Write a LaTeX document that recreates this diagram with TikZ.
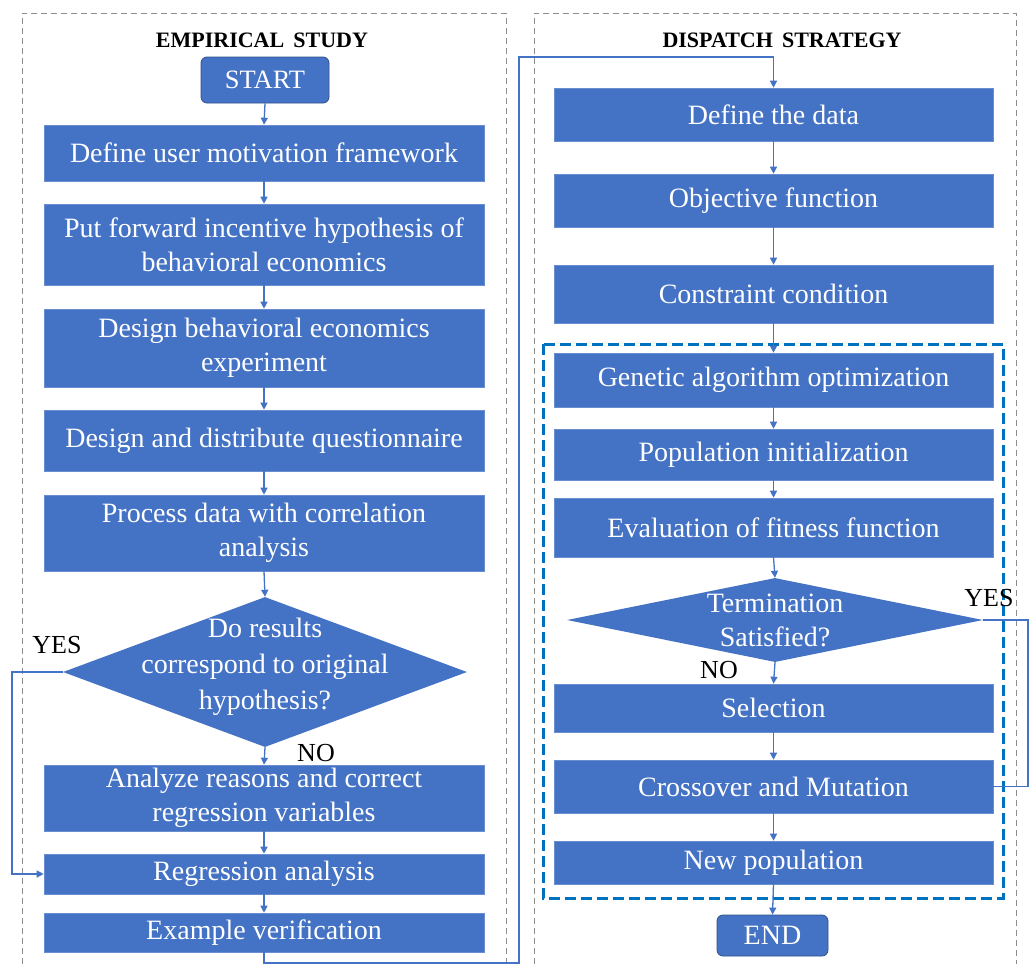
\documentclass[tikz,border=0pt]{standalone}
\usepackage{fontspec}
\setmainfont{Liberation Serif}
\usetikzlibrary{arrows.meta,shapes.geometric}
\definecolor{boxblue}{HTML}{4472C4}
\definecolor{dashblue}{HTML}{0070C0}
\definecolor{panelgray}{HTML}{8C8C8C}
\newcommand{\boxfont}{\fontsize{28}{34}\selectfont}
\begin{document}
\begin{tikzpicture}[x=1pt,y=-1pt,
  box/.style={fill=boxblue, draw=boxblue!80!white, line width=0.6pt, text=white, minimum width=440pt, inner sep=0pt, align=center, font=\boxfont},
  term/.style={box, rounded corners=6pt, draw=boxblue!70!black, line width=0.8pt},
  decision/.style={diamond, fill=boxblue, draw=none, inner sep=0pt},
  dtext/.style={text=white, align=center, inner sep=0pt, font=\fontsize{28}{36}\selectfont},
  arr/.style={draw=boxblue, line width=1.3pt, -{Triangle[length=7pt,width=7pt]}},
  plain/.style={draw=boxblue, line width=1.3pt},
  lab/.style={inner sep=0pt, font=\fontsize{26}{30}\selectfont},
  ttl/.style={inner sep=0pt, font=\fontsize{22}{24}\selectfont\bfseries},
  panel/.style={draw=panelgray, line width=0.8pt, dash pattern=on 6pt off 4pt},
  group/.style={draw=dashblue, line width=3pt, dash pattern=on 11pt off 5pt}
]
\useasboundingbox (0,0) rectangle (1030,964);
% panels
\draw[panel] (22,964) -- (22,13) -- (506,13) -- (506,964);
\draw[panel] (534,964) -- (534,13) -- (1016,13) -- (1016,964);
\draw[group] (543,344) rectangle (1003,898);
% titles
\node[ttl] (t1) at (262,40) {EMPIRICAL\, STUDY};
\node[ttl] (t2) at (782,40) {DISPATCH\, STRATEGY};
% left column
\node[term, minimum width=128pt, minimum height=46pt, font=\fontsize{26.5}{30}\selectfont] (start) at (265,80) {START};
\node[box, minimum height=56pt] (n1) at (264,153) {Define user motivation framework};
\node[box, minimum height=81pt] (n2) at (264,244.5) {Put forward incentive hypothesis of\\behavioral economics};
\node[box, minimum height=78pt] (n3) at (264,348) {Design behavioral economics\\experiment};
\node[box, minimum height=61pt] (n4) at (264,440.5) {Design and distribute questionnaire};
\node[box, minimum height=76pt] (n5) at (264,533) {Process data with correlation\\analysis};
\node[decision, minimum width=404pt, minimum height=150pt] (d1) at (265,672) {};
\node[dtext] (d1t) at (265,667) {Do results\\correspond to original\\hypothesis?};
\node[box, minimum height=66pt] (n6) at (264,798) {Analyze reasons and correct\\regression variables};
\node[box, minimum height=40pt] (n7) at (264,874) {Regression analysis};
\node[box, minimum height=39pt] (n8) at (264,932.5) {Example verification};
\node[lab] (yes1) at (57,645) {YES};
\node[lab] (no1) at (316,753) {NO};
% right column
\node[box, minimum width=439pt, minimum height=53pt] (r1) at (773.5,114.5) {Define the data};
\node[box, minimum width=439pt, minimum height=53pt] (r2) at (773.5,200.5) {Objective function};
\node[box, minimum width=439pt, minimum height=58pt] (r3) at (773.5,294) {Constraint condition};
\node[box, minimum width=439pt, minimum height=54pt] (r4) at (773.5,380) {Genetic algorithm optimization};
\node[box, minimum width=439pt, minimum height=51pt] (r5) at (773.5,454.5) {Population initialization};
\node[box, minimum width=439pt, minimum height=59pt] (r6) at (773.5,527.5) {Evaluation of fitness function};
\node[decision, minimum width=416pt, minimum height=84pt] (d2) at (775,620) {};
\node[dtext, font=\fontsize{28}{34}\selectfont] (d2t) at (775,620) {Termination\\Satisfied?};
\node[box, minimum width=439pt, minimum height=48pt] (r7) at (773.5,708) {Selection};
\node[box, minimum width=439pt, minimum height=53pt] (r8) at (773.5,786.5) {Crossover and Mutation};
\node[box, minimum width=439pt, minimum height=43pt] (r9) at (773.5,862.5) {New population};
\node[term, minimum width=111pt, minimum height=41pt, font=\fontsize{28}{30}\selectfont] (endn) at (772.5,935.5) {END};
\node[lab] (yes2) at (989,598) {YES};
\node[lab] (no2) at (719,670) {NO};
% coordinates for long connector
\coordinate (cA) at (519,963);
\coordinate (cB) at (519,57);
\coordinate (cY) at (12,672);
\coordinate (cZ) at (1028,620);
% left arrows
\draw[arr] (start.south) -- (n1.north);
\draw[arr] (n1.south) -- (n2.north);
\draw[arr] (n2.south) -- (n3.north);
\draw[arr] (n3.south) -- (n4.north);
\draw[arr] (n4.south) -- (n5.north);
\draw[arr] (n5.south) -- (d1.north);
\draw[arr] (d1.south) -- (n6.north);
\draw[arr] (n6.south) -- (n7.north);
\draw[arr] (n7.south) -- (n8.north);
\draw[arr] (d1.west) -- (cY) |- (n7.west);
\draw[arr] (n8.south) |- (cA) -- (cB) -| (r1.north);
% right arrows
\draw[arr] (r1.south) -- (r2.north);
\draw[arr] (r2.south) -- (r3.north);
\draw[arr] (r3.south) -- (r4.north);
\draw[arr] (r4.south) -- (r5.north);
\draw[arr] (r5.south) -- (r6.north);
\draw[arr] (r6.south) -- (d2.north);
\draw[arr] (d2.south) -- (r7.north);
\draw[arr] (r7.south) -- (r8.north);
\draw[arr] (r8.south) -- (r9.north);
\draw[arr] (r9.south) -- (endn.north);
\draw[plain] (d2.east) -- (cZ) |- (r8.east);
\end{tikzpicture}
\end{document}
